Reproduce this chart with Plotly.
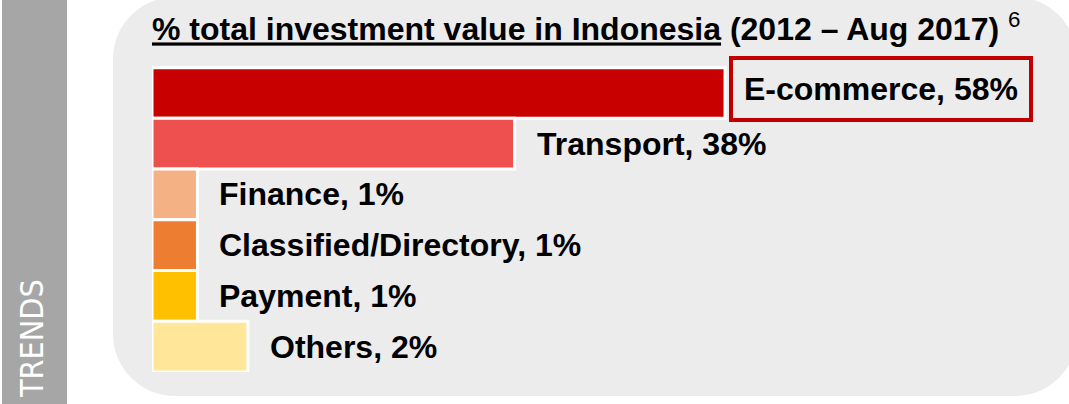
import plotly.graph_objects as go

# ---- data ----
categories = ["E-commerce", "Transport", "Finance", "Classified/Directory", "Payment", "Others"]
shares_pct = [58, 38, 1, 1, 1, 2]                 # labelled shares (%)
bar_lengths = [58, 36.7, 4.6, 4.6, 4.6, 9.7]      # drawn bar lengths (percent-scale units, as drawn)
bar_colors = ["#C80000", "#EE5050", "#F4B183", "#ED7D31", "#FFC000", "#FFE699"]
title_main = "% total investment value in Indonesia"
title_period = "(2012 \u2013 Aug 2017)"
footnote = "6"
side_label = "TRENDS"

W, H = 1069, 404
FONT = "Liberation Sans, Arial, Helvetica, sans-serif"


def px(x):
    return x / W


def py(y):
    return 1 - y / H


fig = go.Figure()
fig.add_trace(go.Bar(
    y=categories,
    x=bar_lengths,
    orientation="h",
    marker=dict(color=bar_colors, line=dict(color="white", width=3)),
    hoverinfo="skip",
))

# labels
annotations = []
for i, (cat, share, length) in enumerate(zip(categories, shares_pct, bar_lengths)):
    txt = f"<b>{cat}, {share}%</b>"
    if i == 0:
        annotations.append(dict(
            x=length, y=cat, xref="x", yref="y", text=txt, showarrow=False,
            xanchor="left", yanchor="middle", xshift=4, yshift=4,
            font=dict(family=FONT, size=32, color="#000000"),
            bordercolor="#C00000", borderwidth=4, borderpad=11,
        ))
    else:
        annotations.append(dict(
            x=length, y=cat, xref="x", yref="y", text=txt, showarrow=False,
            xanchor="left", yanchor="middle", xshift=20,
            font=dict(family=FONT, size=32, color="#000000"),
        ))

# title
annotations.append(dict(
    x=px(150), y=py(27), xref="paper", yref="paper", showarrow=False,
    xanchor="left", yanchor="middle",
    text=f"<b><u>{title_main}</u> {title_period}</b> <sup>{footnote}</sup>",
    font=dict(family=FONT, size=32, color="#000000"),
))

# side label
annotations.append(dict(
    x=px(32), y=py(339), xref="paper", yref="paper", showarrow=False,
    xanchor="center", yanchor="middle", textangle=-90,
    text=side_label,
    font=dict(family="Liberation Sans Narrow, DejaVu Sans Condensed, Arial Narrow, sans-serif",
              size=32, color="white"),
))


def rounded_rect(x0, y0, x1, y1, r):
    k = 0.5523 * r
    pts = [
        f"M {px(x0 + r)},{py(y0)}",
        f"L {px(x1 - r)},{py(y0)}",
        f"C {px(x1 - r + k)},{py(y0)} {px(x1)},{py(y0 + r - k)} {px(x1)},{py(y0 + r)}",
        f"L {px(x1)},{py(y1 - r)}",
        f"C {px(x1)},{py(y1 - r + k)} {px(x1 - r + k)},{py(y1)} {px(x1 - r)},{py(y1)}",
        f"L {px(x0 + r)},{py(y1)}",
        f"C {px(x0 + r - k)},{py(y1)} {px(x0)},{py(y1 - r + k)} {px(x0)},{py(y1 - r)}",
        f"L {px(x0)},{py(y0 + r)}",
        f"C {px(x0)},{py(y0 + r - k)} {px(x0 + r - k)},{py(y0)} {px(x0 + r)},{py(y0)}",
        "Z",
    ]
    return " ".join(pts)


shapes = [
    dict(type="rect", xref="paper", yref="paper", x0=px(2), x1=px(67), y0=-0.05, y1=1.05,
         fillcolor="#A6A6A6", line=dict(width=0), layer="below"),
    dict(type="path", xref="paper", yref="paper", path=rounded_rect(113, -3, 1077, 396, 62),
         fillcolor="#ECECEC", line=dict(width=0), layer="below"),
]

fig.update_layout(
    width=W, height=H,
    margin=dict(l=0, r=0, t=0, b=0),
    paper_bgcolor="white",
    plot_bgcolor="rgba(0,0,0,0)",
    showlegend=False,
    bargap=0,
    xaxis=dict(domain=[px(152), 1], range=[0, (W - 152) / 9.88], visible=False, fixedrange=True),
    yaxis=dict(domain=[py(372), py(64)], autorange="reversed", visible=False, fixedrange=True,
               categoryorder="array", categoryarray=categories),
    annotations=annotations,
    shapes=shapes,
)

fig.write_html(
    "out.html",
    config={"displayModeBar": False, "staticPlot": True},
    post_script="document.body.style.margin='0';document.body.style.overflow='hidden';",
)
